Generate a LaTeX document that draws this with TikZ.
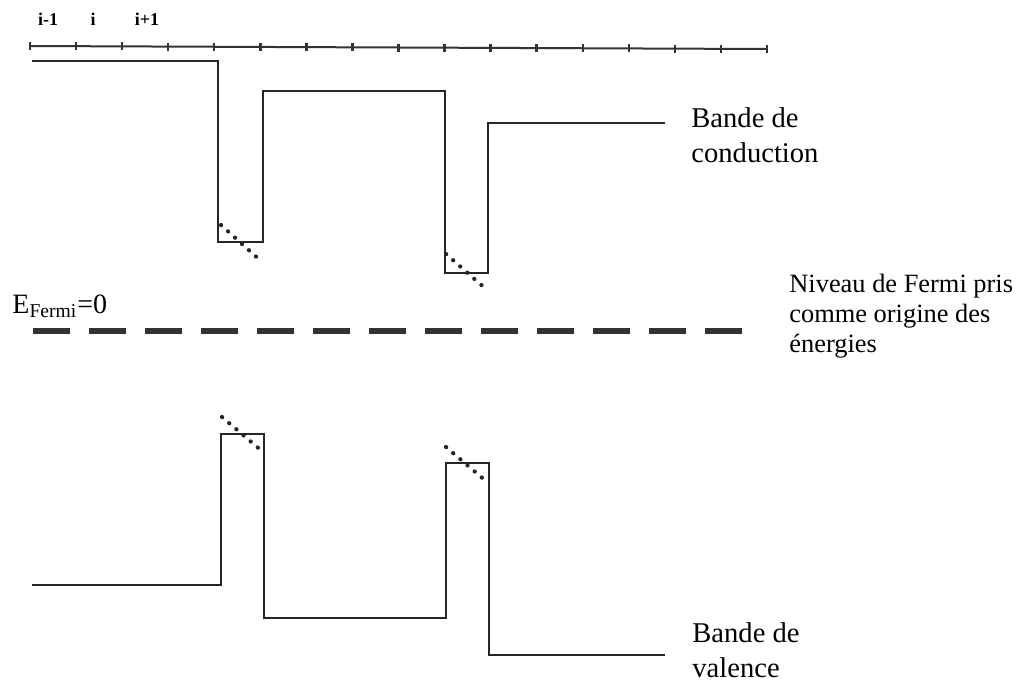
\documentclass[tikz,border=0pt]{standalone}
\usepackage{fontspec}
\setmainfont{Liberation Serif}
\usetikzlibrary{positioning}

\begin{document}
\begin{tikzpicture}[
    x=0.5pt, y=-0.5pt,
    band/.style={line width=1pt, black!85},
    tilt/.style={line width=2.1pt, black!85, line cap=round, dash pattern=on 0.1pt off 4.6pt},
    lbl/.style={anchor=base west, align=left, inner sep=0pt, font=\fontsize{14.3}{17.5}\selectfont},
    site/.style={anchor=base, inner sep=0pt, font=\fontsize{9}{10}\selectfont\bfseries}
]
    \useasboundingbox (0,0) rectangle (1026,681);

    % --- Site axis ---
    \draw[line width=1pt, black!80] (30,46) -- (767,49);
    \foreach \k in {0,...,16}
        \draw[line width=1.2pt, black!80] ({30+46.06*\k},{42+3*\k/16}) -- ++(0,8);
    \node[site] (im1) at (48,25) {i-1};
    \node[site] (i0) at (93,25) {i};
    \node[site] (ip1) at (147,25) {i+1};

    % --- Conduction band ---
    \draw[band] (32,61) -- (218,61) -- (218,242) -- (263,242) -- (263,91)
        -- (445,91) -- (445,273) -- (488,273) -- (488,123) -- (665,123);
    \draw[tilt] (221,225) -- (262,262);
    \draw[tilt] (446,254) -- (487,290);
    \node[lbl] (cb) at (691,162) {Bande de\\conduction};

    % --- Fermi level ---
    \draw[line width=2.6pt, black!80, dash pattern=on 18.5pt off 9.5pt] (33,331) -- (742,331);
    \node[anchor=base west, inner sep=0pt, font=\fontsize{14}{17}\selectfont] (ef) at (12,313)
        {E\textsubscript{Fermi}=0};
    \node[lbl, font=\fontsize{13.2}{15}\selectfont] (fermi) at (789,352)
        {Niveau de Fermi pris\\comme origine des\\énergies};

    % --- Valence band ---
    \draw[band] (32,585) -- (221,585) -- (221,434) -- (264,434) -- (264,618)
        -- (446,618) -- (446,463) -- (489,463) -- (489,655) -- (665,655);
    \draw[tilt] (222,417) -- (263,452);
    \draw[tilt] (446,447) -- (487,482);
    \node[lbl] (vb) at (692,677) {Bande de\\valence};
\end{tikzpicture}
\end{document}
